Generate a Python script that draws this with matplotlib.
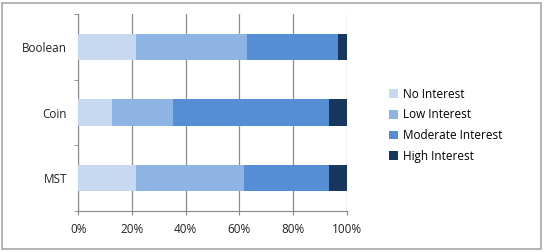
# Stacked 100% horizontal bars of interest level per topic

import numpy as np
import matplotlib.pyplot as plt
from matplotlib.patches import Rectangle

categories = ["MST", "Coin", "Boolean"]
levels = ["No Interest", "Low Interest", "Moderate Interest", "High Interest"]

# percentages, ordered as categories (MST, Coin, Boolean)
no_interest = [21.5, 12.7, 21.5]
low_interest = [40.2, 22.5, 41.5]
moderate_interest = [31.8, 58.3, 33.8]
high_interest = [6.5, 6.5, 3.2]

colors = ["#c6d9f1", "#8eb4e3", "#558ed5", "#17375e"]

plt.rcParams['font.family'] = ['Open Sans', 'DejaVu Sans']

fig = plt.figure(figsize=(5.45, 2.52), dpi=100)
fig.patches.append(Rectangle((0.004, 0.012), 0.988, 0.978, transform=fig.transFigure,
                             fill=False, edgecolor="#a8a8a8", linewidth=1.2))

ax = fig.add_axes([0.1437, 0.1627, 0.4923, 0.7817])

y = np.arange(len(categories))
left = np.zeros(len(categories))
for vals, lab, col in zip([no_interest, low_interest, moderate_interest, high_interest],
                          levels, colors):
    ax.barh(y, vals, left=left, height=0.4, color=col, label=lab, zorder=3)
    left += np.array(vals)

ax.set_xlim(0, 100)
ax.set_ylim(-0.5, 2.5)
ax.set_xticks(np.arange(0, 101, 20))
ax.set_xticklabels([f"{v}%" for v in range(0, 101, 20)], fontsize=8.5, color="#222222")
ax.set_yticks(y)
ax.set_yticklabels(categories, fontsize=8.5, color="#222222")
ax.tick_params(axis='y', length=0, pad=8)
ax.set_yticks([-0.5, 0.5, 1.5, 2.5], minor=True)
ax.tick_params(axis='y', which='minor', length=3, color="#888888")
ax.tick_params(axis='x', length=3, color="#888888", pad=6)

ax.grid(axis='x', color="#8c8c8c", linewidth=0.9, zorder=0)
for s in ["top", "right"]:
    ax.spines[s].set_visible(False)
ax.spines["left"].set_color("#888888")
ax.spines["bottom"].set_color("#888888")

ax.legend(loc="center left", bbox_to_anchor=(1.12, 0.435), frameon=False, fontsize=8.5,
          handlelength=0.75, handleheight=0.75, handletextpad=0.4, labelspacing=0.65)

fig.savefig("out.png", dpi=100)
